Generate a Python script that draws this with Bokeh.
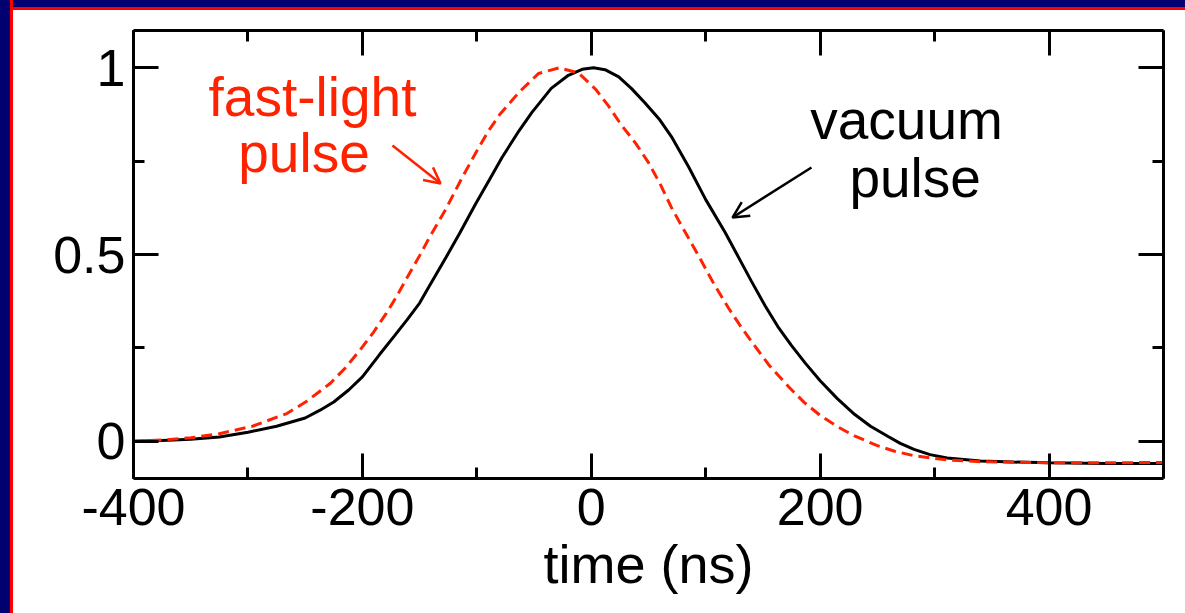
from bokeh.plotting import figure
from bokeh.models import (LinearAxis, SingleIntervalTicker, Range1d, Label, Arrow, OpenHead,
                          GlobalInlineStyleSheet)
from bokeh.embed import file_html
from bokeh.resources import INLINE

# vacuum pulse (black, solid)
vac_t = [-400, -375, -350, -325, -300, -275, -250, -237, -225, -212, -200, -185, -172, -161,
         -150, -144, -127, -115, -101, -89, -78, -63, -52, -35, -20, -8, 2, 12, 24, 35, 47,
         60, 70, 85, 100, 117, 130, 140, 152, 163, 175, 187, 200, 215, 230, 244, 259, 270,
         282, 296, 311, 340, 369, 400, 450, 500]
vac_v = [0.0, 0.002, 0.005, 0.011, 0.024, 0.04, 0.062, 0.083, 0.105, 0.137, 0.172, 0.232, 0.282,
         0.325, 0.37, 0.402, 0.492, 0.557, 0.636, 0.70, 0.760, 0.832, 0.88, 0.945, 0.980,
         0.996, 1.0, 0.995, 0.976, 0.945, 0.906, 0.86, 0.816, 0.735, 0.647, 0.559, 0.485,
         0.428, 0.362, 0.307, 0.256, 0.209, 0.162, 0.114, 0.072, 0.040, 0.013, -0.006, -0.022,
         -0.036, -0.045, -0.053, -0.056, -0.058, -0.06, -0.06]

# fast-light pulse (red, dashed)
fast_t = [-400, -375, -350, -325, -296, -266, -249, -228, -215, -202, -190, -179, -170, -161,
          -150, -141, -127, -113, -101, -90, -80, -63, -46, -28, -11, 4, 15, 26, 39, 50, 60,
          70, 82, 94, 107, 120, 130, 140, 155, 172, 186, 200, 215, 230, 250, 265, 282, 310,
          340, 400, 450, 500]
fast_v = [0.0, 0.003, 0.009, 0.02, 0.04, 0.074, 0.106, 0.155, 0.196, 0.244, 0.293, 0.343, 0.388,
          0.438, 0.497, 0.548, 0.622, 0.705, 0.772, 0.83, 0.875, 0.935, 0.985, 1.0, 0.986, 0.942,
          0.898, 0.848, 0.797, 0.746, 0.69, 0.626, 0.56, 0.495, 0.422, 0.356, 0.31, 0.267, 0.205,
          0.147, 0.104, 0.069, 0.039, 0.014, -0.012, -0.027, -0.039, -0.05, -0.055, -0.058,
          -0.058, -0.057]

x_ticks = [-400, -200, 0, 200, 400]
x_tick_labels = ["-400", "-200", "0", "200", "400"]
x_label = "time (ns)"
label_fast = ["fast-light", "pulse"]
label_vac = ["vacuum", "pulse"]

FONT = "Liberation Sans"
RED = "#ff2200"

page_css = """
html, body { overflow: hidden; background: white; }
body::before {
  content: ""; position: fixed; left: 0; top: 0; width: 10px; height: 100%;
  background: #000070; border-right: 3px solid #ff0000; z-index: 1001; pointer-events: none;
}
body::after {
  content: ""; position: fixed; left: 0; top: 0; width: 100%; height: 7px;
  background: #000070; border-bottom: 3px solid #ff0000; z-index: 1000; pointer-events: none;
}
"""

p = figure(width=1185, height=613, x_range=Range1d(-400, 500), y_range=Range1d(-0.1, 1.1),
           output_backend="svg", toolbar_location=None,
           min_border_left=133, min_border_right=22, min_border_top=30, min_border_bottom=135)
p.outline_line_color = None
p.grid.visible = False
p.background_fill_color = "white"
p.border_fill_color = "white"
p.stylesheets = [GlobalInlineStyleSheet(css=page_css)]


def style_axis(ax, labels=True):
    ax.axis_line_width = 3
    ax.axis_line_color = "black"
    ax.major_tick_in = 25
    ax.major_tick_out = 0
    ax.minor_tick_in = 11
    ax.minor_tick_out = 0
    ax.major_tick_line_width = 3
    ax.minor_tick_line_width = 3
    ax.major_tick_line_color = "black"
    ax.minor_tick_line_color = "black"
    ax.major_label_text_font = FONT
    if labels:
        ax.major_label_text_font_size = "52px"
        ax.major_label_text_color = "black"
    else:
        ax.major_label_text_font_size = "0px"
        ax.major_label_text_color = None
        ax.major_label_standoff = 0


p.xaxis.ticker = SingleIntervalTicker(interval=200, num_minor_ticks=2)
p.yaxis.ticker = SingleIntervalTicker(interval=0.5, num_minor_ticks=2)
style_axis(p.xaxis[0])
style_axis(p.yaxis[0])
p.xaxis.major_label_overrides = dict(zip(x_ticks, x_tick_labels))
p.xaxis.major_label_standoff = 10
p.yaxis.major_label_standoff = 8
p.xaxis.axis_label = x_label
p.xaxis.axis_label_text_font = FONT
p.xaxis.axis_label_text_font_size = "54px"
p.xaxis.axis_label_text_font_style = "normal"
p.xaxis.axis_label_text_color = "black"
p.xaxis.axis_label_standoff = 6

top_ax = LinearAxis(ticker=SingleIntervalTicker(interval=200, num_minor_ticks=2))
right_ax = LinearAxis(ticker=SingleIntervalTicker(interval=0.5, num_minor_ticks=2))
style_axis(top_ax, labels=False)
style_axis(right_ax, labels=False)
p.add_layout(top_ax, "above")
p.add_layout(right_ax, "right")

p.line(vac_t, vac_v, line_color="black", line_width=3)
p.line(fast_t, fast_v, line_color=RED, line_width=3, line_dash="11 6")


def add_label(x, y, text, color, size="55px"):
    p.add_layout(Label(x=x, y=y, text=text, text_font=FONT, text_font_size=size,
                       text_color=color, text_align="center", text_baseline="alphabetic"))


add_label(-243.6, 0.923, label_fast[0], RED)
add_label(-251.0, 0.771, label_fast[1], RED)
add_label(275.5, 0.859, label_vac[0], "black")
add_label(283.0, 0.706, label_vac[1], "black")

p.add_layout(Arrow(end=OpenHead(size=16, line_width=2.5, line_color=RED),
                   x_start=-173.7, y_start=0.792, x_end=-131.7, y_end=0.690,
                   line_color=RED, line_width=2.5))
p.add_layout(Arrow(end=OpenHead(size=16, line_width=2.5, line_color="black"),
                   x_start=192.4, y_start=0.733, x_end=123.4, y_end=0.599,
                   line_color="black", line_width=2.5))

open("out.html", "w").write(file_html(p, INLINE))
